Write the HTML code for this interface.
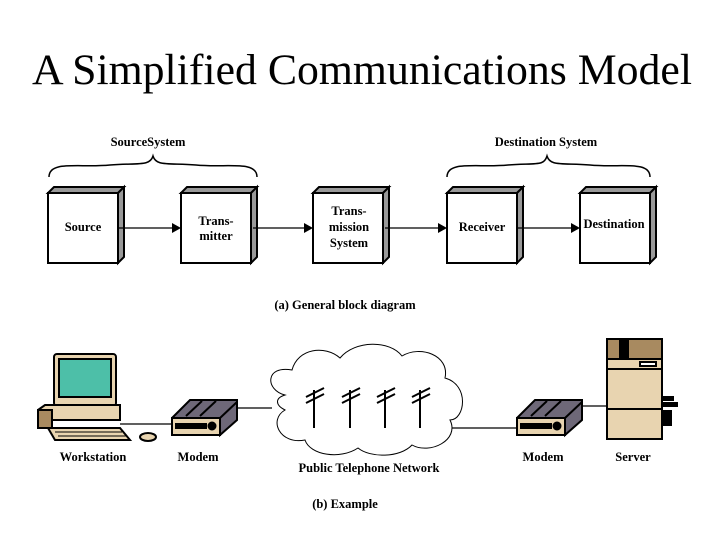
<!DOCTYPE html>
<html><head><style>
body{margin:0;background:#fff}
svg{display:block}
.t{font-family:"Liberation Serif",serif;font-weight:bold;font-size:12.5px;text-anchor:middle}
</style></head><body>
<svg width="720" height="540" viewBox="0 0 720 540" xmlns="http://www.w3.org/2000/svg">
<text x="362" y="84" font-family="Liberation Serif,serif" font-size="43" text-anchor="middle" textLength="660" lengthAdjust="spacingAndGlyphs">A Simplified Communications Model</text>
<text class="t" x="148" y="146">SourceSystem</text>
<text class="t" x="546" y="146">Destination System</text>
<path d="M49,177 C49,160 80,168 110,165 C140,163 150,166 153,156 C156,166 166,163 196,165 C226,168 257,160 257,177" fill="none" stroke="#000" stroke-width="1.5"/>
<path d="M447,177 C447,160 478,168 508,165 C538,163 544,166 547,156 C550,166 560,163 590,165 C620,168 650,160 650,177" fill="none" stroke="#000" stroke-width="1.5"/>
<g stroke="#000" stroke-width="2">
<g id="b"><polygon points="48,193 54,187 124,187 118,193" fill="#999"/><polygon points="118,193 124,187 124,257 118,263" fill="#999"/><rect x="48" y="193" width="70" height="70" fill="#fff"/></g>
<use href="#b" x="133"/><use href="#b" x="265"/><use href="#b" x="399"/><use href="#b" x="532"/>
</g>
<g stroke="#000" stroke-width="1.2">
<line x1="119" y1="228" x2="172" y2="228"/><line x1="253" y1="228" x2="304" y2="228"/><line x1="385" y1="228" x2="438" y2="228"/><line x1="518" y1="228" x2="571" y2="228"/>
</g>
<g fill="#000"><polygon points="181,228 172,223 172,233"/><polygon points="313,228 304,223 304,233"/><polygon points="447,228 438,223 438,233"/><polygon points="580,228 571,223 571,233"/></g>
<text class="t" x="83" y="231">Source</text>
<text class="t" x="216" y="225">Trans-</text><text class="t" x="216" y="240">mitter</text>
<text class="t" x="349" y="215">Trans-</text><text class="t" x="349" y="231">mission</text><text class="t" x="349" y="247">System</text>
<text class="t" x="482" y="231">Receiver</text>
<text class="t" x="614" y="228">Destination</text>
<text class="t" x="345" y="309">(a) General block diagram</text>
<g stroke="#000" stroke-width="1.2"><line x1="120" y1="424" x2="175" y2="424"/><line x1="237" y1="408" x2="272" y2="408"/><line x1="452" y1="428" x2="518" y2="428"/><line x1="580" y1="406" x2="608" y2="406"/></g>
<g stroke="#000" stroke-width="2">
<rect x="54" y="354" width="62" height="52" rx="3" fill="#e8d4b0"/>
<rect x="59" y="359" width="52" height="38" fill="#4dbfa8"/>
<polygon points="38,410 45,405 120,405 120,420 38,420" fill="#e8d4b0"/>
<rect x="38" y="410" width="14" height="18" fill="#a88a60"/>
<polygon points="48,428 120,428 130,440 55,440" fill="#e8d4b0"/>
<ellipse cx="148" cy="437" rx="8" ry="4" fill="#e8d4b0"/>
</g>
<g stroke="#000" stroke-width="1" fill="none"><line x1="55" y1="432" x2="122" y2="432"/><line x1="58" y1="436" x2="126" y2="436"/></g>
<g id="m" stroke="#000" stroke-width="2">
<polygon points="172,418 190,400 237,400 237,412 220,432 172,432" fill="#6e6878"/>
<rect x="172" y="418" width="48" height="17" fill="#e8d4b0"/>
<polygon points="220,418 237,402 237,420 220,435" fill="#6e6878"/>
<rect x="176" y="424" width="30" height="4" fill="#000"/>
<circle cx="212" cy="426" r="3.5" fill="#000"/>
<line x1="186" y1="416" x2="202" y2="401"/><line x1="200" y1="416" x2="216" y2="401"/>
</g>
<use href="#m" x="345"/>
<path d="M285,395 C265,390 265,365 292,370 C298,348 325,345 340,358 C355,340 390,340 402,356 C420,345 450,355 445,378 C470,385 465,420 450,420 C460,440 430,455 412,445 C400,458 370,458 358,448 C340,460 310,455 305,440 C280,445 268,420 285,410 C275,405 275,398 285,395 Z" fill="#fff" stroke="#000" stroke-width="1"/>
<g stroke="#000" stroke-width="2">
<line x1="314" y1="390" x2="314" y2="428"/><line x1="306" y1="397" x2="324" y2="388"/><line x1="306" y1="403" x2="324" y2="394"/>
<line x1="350" y1="390" x2="350" y2="428"/><line x1="342" y1="397" x2="360" y2="388"/><line x1="342" y1="403" x2="360" y2="394"/>
<line x1="385" y1="390" x2="385" y2="428"/><line x1="377" y1="397" x2="395" y2="388"/><line x1="377" y1="403" x2="395" y2="394"/>
<line x1="420" y1="390" x2="420" y2="428"/><line x1="412" y1="397" x2="430" y2="388"/><line x1="412" y1="403" x2="430" y2="394"/>
</g>
<g stroke="#000" stroke-width="2">
<rect x="607" y="339" width="55" height="100" fill="#e8d4b0"/>
<rect x="607" y="339" width="55" height="20" fill="#a88a60"/>
<rect x="620" y="339" width="8" height="20" fill="#000"/>
<line x1="607" y1="369" x2="662" y2="369"/><line x1="607" y1="409" x2="662" y2="409"/>
<rect x="640" y="362" width="16" height="4" fill="#fff"/>
</g>
<rect x="662" y="396" width="12" height="5"/><rect x="662" y="402" width="16" height="5"/><rect x="662" y="410" width="10" height="16"/>
<text class="t" x="93" y="461">Workstation</text>
<text class="t" x="198" y="461">Modem</text>
<text class="t" x="369" y="472">Public Telephone Network</text>
<text class="t" x="543" y="461">Modem</text>
<text class="t" x="633" y="461">Server</text>
<text class="t" x="345" y="508">(b) Example</text>
</svg>
</body></html>
